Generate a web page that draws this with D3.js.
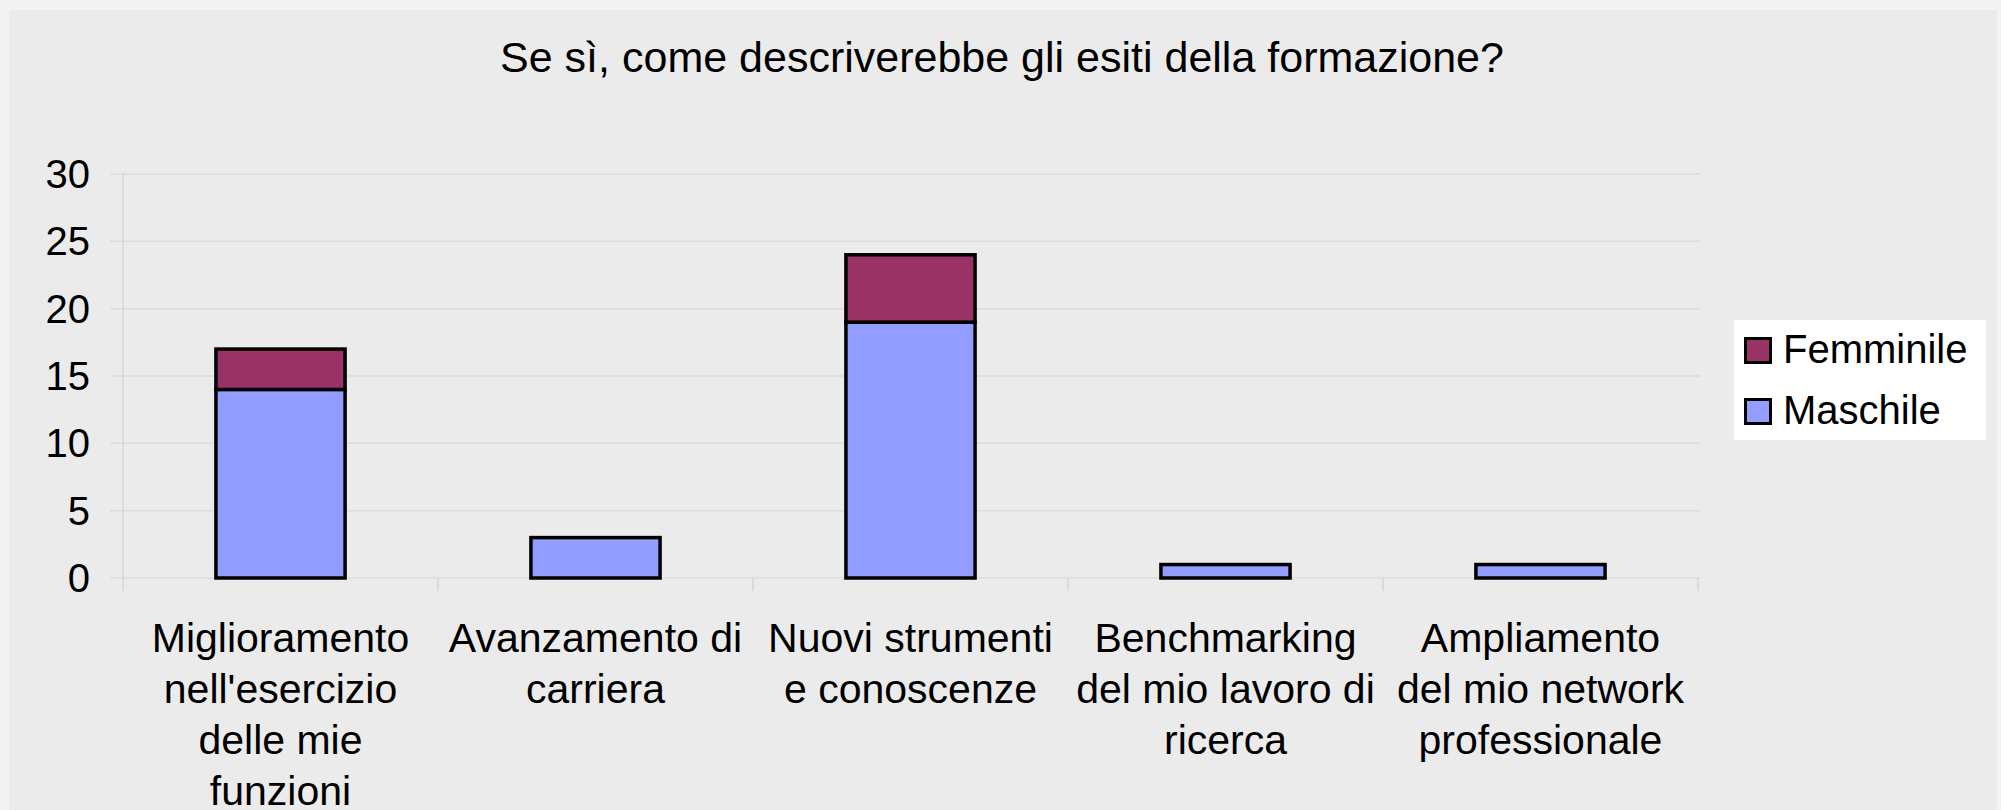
<!DOCTYPE html>
<html>
<head>
<meta charset="utf-8">
<script src="https://cdn.jsdelivr.net/npm/d3@7"></script>
<style>
  html, body { margin: 0; padding: 0; background: #f3f3f3; }
  svg { display: block; font-family: "Liberation Sans", Arial, sans-serif; }
</style>
</head>
<body>
<svg id="chart" width="2001" height="810"></svg>
<script>
// chart data
var title = "Se sì, come descriverebbe gli esiti della formazione?";
var categories = [
    ["Miglioramento", "nell'esercizio", "delle mie", "funzioni"],
    ["Avanzamento di", "carriera"],
    ["Nuovi strumenti", "e conoscenze"],
    ["Benchmarking", "del mio lavoro di", "ricerca"],
    ["Ampliamento", "del mio network", "professionale"]
];
var maschile = [14, 3, 19, 1, 1];
var femminile = [3, 0, 5, 0, 0];
var seriesNames = ["Maschile", "Femminile"];
var seriesColors = ["#939dff", "#993366"];
var yTicks = [0, 5, 10, 15, 20, 25, 30];

var svg = d3.select("#chart");

// chart area
svg.append("rect")
    .attr("x", 9).attr("y", 10)
    .attr("width", 1988).attr("height", 800)
    .attr("fill", "#ebebeb");

var plotLeft = 123, plotRight = 1698, plotTop = 174, plotBottom = 578;

var ids = categories.map(function(d, i) { return i; });
var x = d3.scaleBand().domain(ids).range([plotLeft, plotRight]).padding(0);
var y = d3.scaleLinear().domain([0, 30]).range([plotBottom, plotTop]);
var barW = x.bandwidth() * 0.41;

// gridlines
svg.append("g").selectAll("line")
    .data(yTicks)
    .enter().append("line")
    .attr("x1", plotLeft - 13).attr("x2", plotRight + 2)
    .attr("y1", function(d) { return y(d); })
    .attr("y2", function(d) { return y(d); })
    .attr("stroke", "#dcdcdc")
    .attr("stroke-width", 1.5);

// y axis line
svg.append("line")
    .attr("x1", plotLeft).attr("x2", plotLeft)
    .attr("y1", plotTop).attr("y2", plotBottom)
    .attr("stroke", "#d6d6d6").attr("stroke-width", 1.5);

// category ticks
var bounds = ids.map(function(i) { return x(i); }).concat([plotRight]);
svg.append("g").selectAll("line")
    .data(bounds)
    .enter().append("line")
    .attr("x1", function(d) { return d; })
    .attr("x2", function(d) { return d; })
    .attr("y1", plotBottom).attr("y2", plotBottom + 13)
    .attr("stroke", "#d6d6d6").attr("stroke-width", 1.5);

// y tick labels
svg.append("g").selectAll("text")
    .data(yTicks)
    .enter().append("text")
    .attr("x", 90)
    .attr("y", function(d) { return y(d); })
    .attr("dy", "0.35em")
    .attr("text-anchor", "end")
    .attr("font-size", 40)
    .attr("fill", "#000")
    .text(function(d) { return d; });

// stacked bars
var rows = ids.map(function(i) {
    return { i: i, Maschile: maschile[i], Femminile: femminile[i] };
});
var stack = d3.stack().keys(seriesNames)(rows);

svg.append("g").selectAll("g")
    .data(stack)
    .enter().append("g")
    .attr("fill", function(d, k) { return seriesColors[k]; })
    .selectAll("rect")
    .data(function(d) { return d.filter(function(s) { return s[1] > s[0]; }); })
    .enter().append("rect")
    .attr("x", function(d) { return x(d.data.i) + (x.bandwidth() - barW) / 2; })
    .attr("y", function(d) { return y(d[1]); })
    .attr("width", barW)
    .attr("height", function(d) { return y(d[0]) - y(d[1]); })
    .attr("stroke", "#000")
    .attr("stroke-width", 3.5);

// x labels
var xl = svg.append("g").selectAll("text")
    .data(categories)
    .enter().append("text")
    .attr("text-anchor", "middle")
    .attr("font-size", 41)
    .attr("fill", "#000");
xl.selectAll("tspan")
    .data(function(d, i) { return d.map(function(t, j) { return { t: t, j: j, i: i }; }); })
    .enter().append("tspan")
    .attr("x", function(d) { return x(d.i) + x.bandwidth() / 2; })
    .attr("y", function(d) { return 652 + d.j * 51; })
    .text(function(d) { return d.t; });

// title
svg.append("text")
    .attr("x", 1002).attr("y", 72)
    .attr("text-anchor", "middle")
    .attr("font-size", 43)
    .attr("fill", "#000")
    .text(title);

// legend
var lg = svg.append("g");
lg.append("rect")
    .attr("x", 1734).attr("y", 320)
    .attr("width", 252).attr("height", 120)
    .attr("fill", "#fff");
var legendItems = ["Femminile", "Maschile"];
var legendColors = [seriesColors[1], seriesColors[0]];
var li = lg.selectAll("g.item")
    .data(legendItems)
    .enter().append("g")
    .attr("class", "item")
    .attr("transform", function(d, i) { return "translate(0," + (i * 61) + ")"; });
li.append("rect")
    .attr("x", 1745.5).attr("y", 338.5)
    .attr("width", 25).attr("height", 24)
    .attr("fill", function(d, i) { return legendColors[i]; })
    .attr("stroke", "#000").attr("stroke-width", 3);
li.append("text")
    .attr("x", 1783).attr("y", 363)
    .attr("font-size", 40)
    .attr("fill", "#000")
    .text(function(d) { return d; });
</script>
</body>
</html>
